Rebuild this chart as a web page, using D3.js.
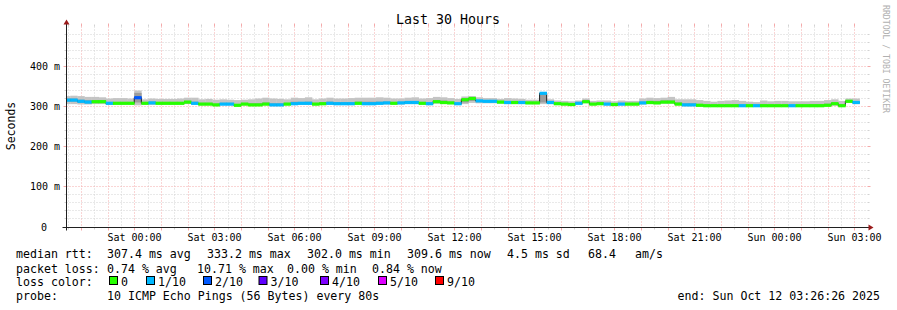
<!DOCTYPE html>
<html>
<head>
<meta charset="utf-8">
<script src="https://cdn.jsdelivr.net/npm/d3@7"></script>
<style>
body { margin: 0; background: #fff; }
text { font-family: "DejaVu Sans Mono", monospace; fill: #000; }
</style>
</head>
<body>
<svg id="chart" width="897" height="310"></svg>
<script>

var W = 897, H = 310;

// time frame of the graph
var endTime = Date.UTC(2025, 9, 12, 3, 26, 26);
var startTime = endTime - 30 * 3600 * 1000;
var stepMs = 960 * 1000;                    // 12 x 80s consolidated rows
var firstStep = startTime - 454 * 1000;     // row that holds the start time

// median rtt per row (ms)
var median = [
 316,316,313,311,312,312,308,308,308,308,
 322,308,309,308,308,308,308,311,308,306,
 306,304,306,306,303,306,304,304,306,304,
 304,306,307,308,308,306,307,308,307,307,
 307,308,307,307,308,309,308,309,310,310,
 308,307,312,310,309,307,317,320,314,313,
 313,311,310,310,310,309,309,333,310,307,
 306,305,308,312,306,307,306,305,306,306,
 306,309,310,309,311,311,306,304,304,303,
 302,302,302,302,302,302,302,302,302,302,
 302,302,302,302,302,302,302,303,307,302,
 313,310];

// loss class per row (index into lossColors)
var lossIdx = [
 1,1,1,1,0,0,1,0,0,0,
 2,0,1,0,0,0,0,0,1,0,
 0,0,1,1,0,0,0,0,0,1,
 1,0,1,1,1,0,0,1,1,1,
 1,0,1,1,1,1,0,1,1,1,
 0,1,0,0,0,1,0,0,1,1,
 1,0,1,0,1,0,0,1,1,0,
 0,0,1,0,0,0,1,0,1,0,
 0,1,0,0,0,0,0,1,1,0,
 0,0,0,0,0,1,0,1,0,0,
 0,0,1,0,0,0,0,0,0,0,
 0,1];

// smoke: lowest / 2nd / 9th / highest ping per row (ms)
var pingMin = [
 306,306,305,305,306,306,304,305,305,305,
 303,305,304,305,305,305,305,306,304,303,
 303,302,303,303,301,303,302,302,303,302,
 302,303,304,304,304,303,304,304,304,304,
 304,305,304,304,305,305,305,305,306,306,
 305,304,307,306,306,304,306,309,308,308,
 308,307,306,306,306,306,306,306,306,304,
 303,302,305,308,303,304,303,302,303,303,
 303,305,306,306,307,307,303,301,301,301,
 300,300,300,300,300,300,300,300,300,300,
 300,300,300,300,300,300,300,301,302,300,
 309,306];
var ping2 = [
 312,312,309,308,309,309,306,306,306,306,
 310,306,307,306,306,306,306,308,306,304,
 304,302,304,304,302,304,302,302,304,302,
 302,304,305,306,306,304,305,306,305,305,
 305,306,305,305,306,307,306,307,308,308,
 306,305,309,308,307,305,310,314,311,311,
 311,309,308,308,308,307,307,310,308,305,
 304,303,306,310,304,305,304,303,304,304,
 304,307,308,307,309,309,304,302,302,301,
 301,301,301,301,301,301,301,301,301,301,
 301,301,301,301,301,301,301,302,304,301,
 311,308];
var ping9 = [
 320,320,317,316,315,315,311,310,310,310,
 334,310,312,310,310,310,311,314,312,309,
 309,307,309,309,306,309,308,308,310,308,
 308,309,312,311,312,309,310,312,311,311,
 311,312,312,312,312,312,311,311,313,313,
 311,311,315,315,312,309,320,321,316,315,
 315,313,313,312,312,311,311,334,312,309,
 308,307,310,314,308,309,309,307,309,308,
 308,312,314,314,315,315,310,308,308,306,
 304,304,304,305,305,304,304,304,305,304,
 304,304,304,304,304,305,305,307,310,305,
 315,313];
var pingMax = [
 326,327,326,324,324,323,320,321,321,320,
 340,318,320,319,319,319,320,322,322,318,
 319,317,318,317,316,317,318,320,322,320,
 319,318,322,321,323,318,320,322,320,320,
 321,322,322,322,323,322,320,320,322,323,
 320,321,324,323,321,319,325,326,323,321,
 321,319,321,320,319,317,317,336,318,315,
 314,313,315,320,314,315,315,313,315,314,
 314,320,322,321,322,324,318,318,318,316,
 314,312,314,315,316,314,312,311,315,313,
 314,314,313,313,313,314,314,316,318,314,
 320,320];

var lossLabels = ["0", "1/10", "2/10", "3/10", "4/10", "5/10", "9/10"];
var lossColors = ["#26ff00", "#00b8ff", "#0059ff", "#5e00ff", "#7e00ff", "#dd00ff", "#ff0000"];

var yTicks = [0, 100, 200, 300, 400];
var rttStats = ["307.4 ms avg", "333.2 ms max", "302.0 ms min", "309.6 ms now", "4.5 ms sd", "68.4", "am/s"];
var lossStats = ["0.74 % avg", "10.71 % max", "0.00 % min", "0.84 % now"];

var svg = d3.select("#chart");
svg.append("rect").attr("width", W).attr("height", H).attr("fill", "#fff");

var X0 = 66.5, X1 = 866.5, Y0 = 226.5, Y1 = 26.5;
var x = d3.scaleUtc().domain([startTime, endTime]).range([X0, X1]);
var y = d3.scaleLinear().domain([0, 500]).range([Y0, Y1]);

var steps = median.map(function (m, k) {
  var t0 = firstStep + k * stepMs;
  return {
    x0: x(Math.max(t0, startTime)), x1: x(t0 + stepMs), med: m, loss: lossIdx[k],
    lo: pingMin[k], lo2: ping2[k], hi2: ping9[k], hi: pingMax[k]
  };
});

// grid (drawn first, dotted, light)
var grid = svg.append("g").attr("fill", "none");
var GRID = "#d2d2d2", MGRID = "#f4aaaa";

var halfHours = d3.utcMinute.every(30).range(new Date(startTime), new Date(endTime));
halfHours.forEach(function (t) {
  var major = t.getUTCMinutes() === 0;
  var gx = Math.floor(x(t)) + 0.5;
  var col = major ? MGRID : GRID;
  var tl = major ? 3 : 2;
  grid.append("line").attr("x1", gx).attr("x2", gx).attr("y1", Y1).attr("y2", Y0)
    .attr("stroke", col).attr("stroke-dasharray", "1,2");
  grid.append("line").attr("x1", gx).attr("x2", gx).attr("y1", Y1 - tl).attr("y2", Y1)
    .attr("stroke", col);
  grid.append("line").attr("x1", gx).attr("x2", gx).attr("y1", Y0 + 1).attr("y2", Y0 + 1 + tl)
    .attr("stroke", col);
});

d3.range(20, 500, 20).forEach(function (v) {
  var major = v % 100 === 0;
  var gy = y(v);
  var col = major ? MGRID : GRID;
  var tl = major ? 3 : 2;
  grid.append("line").attr("x1", X0).attr("x2", X1 + 1).attr("y1", gy).attr("y2", gy)
    .attr("stroke", col).attr("stroke-dasharray", "1,2");
  grid.append("line").attr("x1", X0 - tl).attr("x2", X0).attr("y1", gy).attr("y2", gy)
    .attr("stroke", col);
  grid.append("line").attr("x1", X1 + 1).attr("x2", X1 + 1 + tl).attr("y1", gy).attr("y2", gy)
    .attr("stroke", col);
});

var data = svg.append("g");

// smoke
data.selectAll("rect.smoke1").data(steps).enter().append("rect")
  .attr("x", function (d) { return d.x0; })
  .attr("width", function (d) { return d.x1 - d.x0 + 0.3; })
  .attr("y", function (d) { return y(d.hi); })
  .attr("height", function (d) { return y(d.lo) - y(d.hi); })
  .attr("fill", "#c4c4c4");

data.selectAll("rect.smoke2").data(steps).enter().append("rect")
  .attr("x", function (d) { return d.x0; })
  .attr("width", function (d) { return d.x1 - d.x0 + 0.3; })
  .attr("y", function (d) { return y(d.hi2); })
  .attr("height", function (d) { return y(d.lo2) - y(d.hi2); })
  .attr("fill", "#9c9c9c");

// median line
var pts = steps.map(function (d) { return [d.x0, y(d.med)]; });
pts.push([steps[steps.length - 1].x1, y(steps[steps.length - 1].med)]);
data.append("path")
  .attr("d", d3.line().curve(d3.curveStepAfter)(pts))
  .attr("fill", "none")
  .attr("stroke", "#202020")
  .attr("stroke-width", 1);

// median coloured by loss
data.selectAll("rect.med").data(steps).enter().append("rect")
  .attr("x", function (d) { return d.x0; })
  .attr("width", function (d) { return d.x1 - d.x0 + 0.3; })
  .attr("y", function (d) { return y(d.med) - 1.6; })
  .attr("height", 3.2)
  .attr("fill", function (d) { return lossColors[d.loss]; });

// axes
var AX = "#202020", ARROW = "#9a1a1a";
svg.append("line").attr("x1", X0 - 4).attr("x2", X1 + 4).attr("y1", Y0 + 1).attr("y2", Y0 + 1)
  .attr("stroke", AX);
svg.append("line").attr("x1", X0).attr("x2", X0).attr("y1", Y0 + 4).attr("y2", Y1 - 4)
  .attr("stroke", AX);
svg.append("path")
  .attr("d", "M" + (X1 + 2) + "," + (Y0 - 2) + "L" + (X1 + 2) + "," + (Y0 + 4) + "L" + (X1 + 7) + "," + (Y0 + 1) + "Z")
  .attr("fill", ARROW);
svg.append("path")
  .attr("d", "M" + (X0 - 3) + "," + (Y1 - 2) + "L" + (X0 + 3) + "," + (Y1 - 2) + "L" + X0 + "," + (Y1 - 7) + "Z")
  .attr("fill", ARROW);

// axis labels
d3.utcHour.every(3).range(new Date(startTime), new Date(endTime)).forEach(function (t) {
  svg.append("text")
    .attr("x", Math.floor(x(t)) + 0.5).attr("y", 241)
    .attr("text-anchor", "middle").attr("font-size", "10px")
    .text(d3.utcFormat("%a %H:%M")(t));
});

yTicks.forEach(function (v) {
  var t = svg.append("text")
    .attr("y", (v === 0 ? Y0 + 1 : y(v)) + 3.6)
    .attr("text-anchor", "end").attr("font-size", "10px");
  if (v === 0) t.attr("x", 47).text("0");
  else t.attr("x", 60).text(v + " m");
});

svg.append("text")
  .attr("transform", "translate(15,126) rotate(-90)")
  .attr("text-anchor", "middle").attr("font-size", "11.5px")
  .text("Seconds");

svg.append("text")
  .attr("x", 448).attr("y", 24)
  .attr("text-anchor", "middle").attr("font-size", "13.3px")
  .text("Last 30 Hours");

svg.append("text")
  .attr("transform", "translate(883,5) rotate(90)")
  .attr("font-size", "8.2px")
  .attr("textLength", 108)
  .style("fill", "#b0b0b0")
  .text("RRDTOOL / TOBI OETIKER");

// legend
var LF = "11.6px";
function leg(tx, ty, s) {
  svg.append("text").attr("x", tx).attr("y", ty).attr("font-size", LF).text(s);
}

leg(16, 258, "median rtt:");
var rttX = [107, 207, 307, 407, 507, 588, 635];
rttStats.forEach(function (s, i) { leg(rttX[i], 258, s); });

leg(16, 272.5, "packet loss:");
var lossX = [107, 197, 287, 372];
lossStats.forEach(function (s, i) { leg(lossX[i], 272.5, s); });

leg(16, 286, "loss color:");
var swX = [109, 146, 203, 258.5, 320, 378, 435];
lossLabels.forEach(function (s, i) {
  svg.append("rect")
    .attr("x", swX[i] + 0.5).attr("y", 276.5).attr("width", 8).attr("height", 8)
    .attr("fill", lossColors[i]).attr("stroke", "#000").attr("stroke-width", 1);
  leg(swX[i] + 12, 286, s);
});

leg(16, 300, "probe:");
leg(107, 300, "10 ICMP Echo Pings (56 Bytes) every 80s");
svg.append("text").attr("x", 880).attr("y", 300).attr("text-anchor", "end")
  .attr("font-size", LF).text("end: Sun Oct 12 03:26:26 2025");

</script>
</body>
</html>
